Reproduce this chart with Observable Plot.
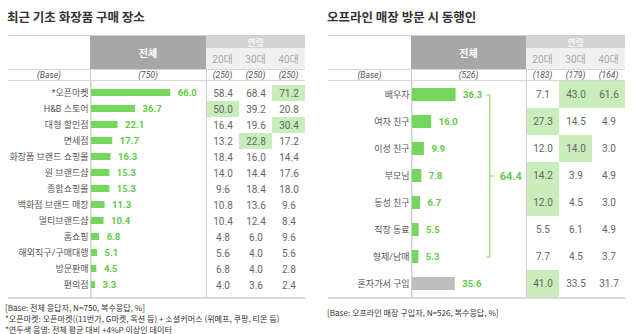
<!DOCTYPE html>
<html><head><meta charset="utf-8">
<script src="https://cdn.jsdelivr.net/npm/d3@7"></script>
<script src="https://cdn.jsdelivr.net/npm/@observablehq/plot@0.6"></script>
<style>
body{margin:0;background:#fff;font-family:Roboto,"Noto Sans CJK KR",sans-serif;}
#root{position:relative;width:640px;height:334px;overflow:hidden;background:#fff;}
.abs{position:absolute;box-sizing:border-box;}
.ctr{display:flex;align-items:center;justify-content:center;white-space:nowrap;}
.title{font-family:"Noto Sans CJK KR",sans-serif;font-weight:700;font-size:12.5px;color:#333;white-space:nowrap;}
.note{font-family:"Noto Sans CJK KR",sans-serif;font-size:8.1px;color:#333;line-height:11px;white-space:nowrap;}
</style></head><body><div id="root"></div>
<script>
// ---------- data ----------
const leftTitle = "최근 기초 화장품 구매 장소";
const leftCategories = ["*오픈마켓","H&B 스토어","대형 할인점","면세점","화장품 브랜드 쇼핑몰","원 브랜드샵","종합쇼핑몰","백화점 브랜드 매장","멀티브랜드샵","홈쇼핑","해외직구/구매대행","방문판매","편의점"];
const leftTotal = [66.0,36.7,22.1,17.7,16.3,15.3,15.3,11.3,10.4,6.8,5.1,4.5,3.3];
const left20 = [58.4,50.0,16.4,13.2,18.4,14.0,9.6,10.8,10.4,4.8,5.6,6.8,4.0];
const left30 = [68.4,39.2,19.6,22.8,16.0,14.4,18.4,13.6,12.4,6.0,4.0,4.0,3.6];
const left40 = [71.2,20.8,30.4,17.2,14.4,17.6,18.0,9.6,8.4,9.6,5.6,2.8,2.4];
const leftBase = ["(750)","(250)","(250)","(250)"];
const leftNotes = ["[Base: 전체 응답자, N=750, 복수응답, %]","*오픈마켓: 오픈마켓((11번가, G마켓, 옥션 등) + 소셜커머스 (위메프, 쿠팡, 티몬 등)","*연두색 음영: 전체 평균 대비 +4%P 이상인 데이터"];

const rightTitle = "오프라인 매장 방문 시 동행인";
const rightCategories = ["배우자","여자 친구","이성 친구","부모님","동성 친구","직장 동료","형제/남매","혼자가서 구입"];
const rightTotal = [36.3,16.0,9.9,7.8,6.7,5.5,5.3,35.6];
const right20 = [7.1,27.3,12.0,14.2,12.0,5.5,7.7,41.0];
const right30 = [43.0,14.5,14.0,3.9,4.5,6.1,4.5,33.5];
const right40 = [61.6,4.9,3.0,4.9,3.0,4.9,3.7,31.7];
const rightBase = ["(526)","(183)","(179)","(164)"];
const rightNotes = ["[Base: 오프라인 매장 구입자, N=526, 복수응답, %]"];
const companionGroup = ["배우자","여자 친구","이성 친구","부모님","동성 친구","직장 동료","형제/남매"];
const companionTotal = 64.4;

const ageLabels = ["20대","30대","40대"];
const headerTotal = "전체";
const headerAge = "연령";
const baseLabel = "(Base)";
const highlightGap = 4; // +4%P vs 전체

// ---------- styles ----------
const GREEN = "#74d65c", GREEN_TXT = "#62c94a", GREY_BAR = "#bdbdbd", HILITE = "#c8ecba", BRACKET = "#a4e090";
const FONT = 'Roboto,"Noto Sans CJK KR",sans-serif';
const root = document.getElementById("root");

function div(cls, css, text) {
  const d = document.createElement("div");
  d.className = cls;
  Object.assign(d.style, css);
  if (text != null) d.textContent = text;
  root.appendChild(d);
  return d;
}

function panel(cfg) {
  const L = cfg.left, tl = cfg.tableL, lr = cfg.labelR, tr = cfg.totalR, er = cfg.tableR;
  const colW = (er - tr) / 3;
  // title
  div("abs title", {left: (L + 7) + "px", top: "7px"}, cfg.title);
  // header
  div("abs", {left: tl + "px", top: "35px", width: (er - tl) + "px", height: "1px", background: "#cfcfcf"});
  div("abs ctr", {left: lr + "px", top: "36px", width: (tr - lr) + "px", height: "33px", background: "#a7a7a7", color: "#fff", fontWeight: "700", fontSize: "10px", fontFamily: '"Noto Sans CJK KR",sans-serif'}, headerTotal);
  div("abs ctr", {left: tr + "px", top: "36px", width: (er - tr) + "px", height: "12px", background: "#d3d3d3", color: "#f4f4f4", fontSize: "9px", fontWeight: "700", fontFamily: '"Noto Sans CJK KR",sans-serif'}, headerAge);
  div("abs", {left: tr + "px", top: "48px", width: (er - tr) + "px", height: "21px", background: "#efefef"});
  ageLabels.forEach((a, i) => div("abs ctr", {left: (tr + i * colW) + "px", top: "48px", width: colW + "px", height: "21px", color: "#a8a8a8", fontSize: "10px"}, a));
  div("abs", {left: tl + "px", top: "69px", width: (er - tl) + "px", height: "1px", background: "#d6d6d6"});
  // base row
  const bcss = {top: "69px", height: "11px", color: "#555", fontSize: "8.5px", fontStyle: "italic"};
  div("abs ctr", Object.assign({left: tl + "px", width: (lr - tl) + "px"}, bcss), baseLabel);
  div("abs ctr", Object.assign({left: lr + "px", width: (tr - lr) + "px"}, bcss), cfg.base[0]);
  cfg.base.slice(1).forEach((b, i) => div("abs ctr", Object.assign({left: (tr + i * colW) + "px", width: colW + "px"}, bcss), b));
  div("abs", {left: tl + "px", top: "80px", width: (er - tl) + "px", height: "1px", background: "#d6d6d6"});
  // vertical separators
  div("abs", {left: lr + "px", top: "69px", width: "1px", height: "229px", background: "#d0d0d0"});
  div("abs", {left: tr + "px", top: "69px", width: "1px", height: "229px", background: "#d0d0d0"});

  const rows = cfg.categories.map((c, i) => ({cat: c, total: cfg.total[i]}));
  const cells = [];
  cfg.categories.forEach((c, i) => {
    [cfg.a20[i], cfg.a30[i], cfg.a40[i]].forEach((v, j) => cells.push({cat: c, age: ageLabels[j], v, hi: v >= cfg.total[i] + highlightGap}));
  });
  const H = 218;
  const pad = cfg.pad;
  const marksA = [
    Plot.ruleX([0], {stroke: "#d0d0d0", dx: -0.5}),
    Plot.barX(rows, {x: "total", y: "cat", fill: d => (cfg.group && !cfg.group.includes(d.cat)) ? GREY_BAR : GREEN}),
    Plot.text(rows, {x: "total", y: "cat", text: d => d.total.toFixed(1), dx: 7, textAnchor: "start", fill: GREEN_TXT, fontWeight: "bold", fontSize: 9.5})
  ];
  if (cfg.group) {
    const g = cfg.groupTotal, first = cfg.group[0], last = cfg.group[cfg.group.length - 1];
    const mid = cfg.group[Math.floor(cfg.group.length / 2)];
    marksA.push(
      Plot.line([{x: g, y: first}, {x: g, y: last}], {x: "x", y: "y", stroke: BRACKET, strokeWidth: 1.5}),
      Plot.ruleY([first, last], {y: d => d, x1: g, x2: g, insetLeft: -3, stroke: BRACKET, strokeWidth: 1.5}),
      Plot.ruleY([mid], {y: d => d, x1: g, x2: g, insetRight: -4, stroke: BRACKET, strokeWidth: 1.5}),
      Plot.text([g], {x: d => d, y: () => mid, text: d => d.toFixed(1), dx: 10, textAnchor: "start", fill: GREEN_TXT, fontWeight: "bold", fontSize: 11})
    );
  }
  const plotA = Plot.plot({
    width: tr - L, height: H,
    marginLeft: lr - L, marginRight: 0, marginTop: 0, marginBottom: 0,
    x: {domain: [0, 100], range: [lr - L + 1, lr - L + 121], axis: null},
    y: {domain: cfg.categories, paddingInner: pad, paddingOuter: pad / 2, tickSize: 0, tickPadding: 2, label: null},
    color: {type: "identity"},
    style: {fontFamily: FONT, fontSize: cfg.labelSize + "px", color: "#555", background: "transparent", overflow: "visible"},
    marks: marksA
  });
  const wa = document.createElement("div");
  wa.className = "abs";
  Object.assign(wa.style, {left: L + "px", top: "80px"});
  wa.appendChild(plotA);
  root.appendChild(wa);

  const plotB = Plot.plot({
    width: er - tr, height: H,
    margin: 0,
    x: {domain: ageLabels, padding: 0, axis: null},
    y: {domain: cfg.categories, padding: 0, axis: null},
    style: {fontFamily: FONT, fontSize: "10px", background: "transparent", overflow: "visible"},
    marks: [
      Plot.cell(cells.filter(d => d.hi), {x: "age", y: "cat", fill: HILITE}),
      Plot.text(cells, {x: "age", y: "cat", text: d => d.v.toFixed(1), fill: "#666", fontSize: 10})
    ]
  });
  const wb = document.createElement("div");
  wb.className = "abs";
  Object.assign(wb.style, {left: tr + "px", top: "80px"});
  wb.appendChild(plotB);
  root.appendChild(wb);

  // separator over plot B (thin)
  div("abs", {left: tr + "px", top: "69px", width: "1px", height: "229px", background: "#d0d0d0"});
  // bottom line
  div("abs", {left: tl + "px", top: "297px", width: (er - tl) + "px", height: "2px", background: "#d9d9d9"});
  // notes
  const nd = div("abs note", {left: (L + cfg.noteX) + "px", top: cfg.noteTop + "px"});
  cfg.notes.forEach(n => { const p = document.createElement("div"); p.textContent = n; nd.appendChild(p); });
}

panel({left: 0, tableL: 8, labelR: 90, totalR: 206, tableR: 305, title: leftTitle,
  categories: leftCategories, total: leftTotal, a20: left20, a30: left30, a40: left40, base: leftBase,
  notes: leftNotes, noteX: 5, noteTop: 301.5, pad: 0.55, labelSize: 9});
panel({left: 320, tableL: 328, labelR: 411, totalR: 526, tableR: 625, title: rightTitle,
  categories: rightCategories, total: rightTotal, a20: right20, a30: right30, a40: right40, base: rightBase,
  notes: rightNotes, noteX: 7, noteTop: 306.5, pad: 0.52, labelSize: 9,
  group: companionGroup, groupTotal: companionTotal});
</script></body></html>
